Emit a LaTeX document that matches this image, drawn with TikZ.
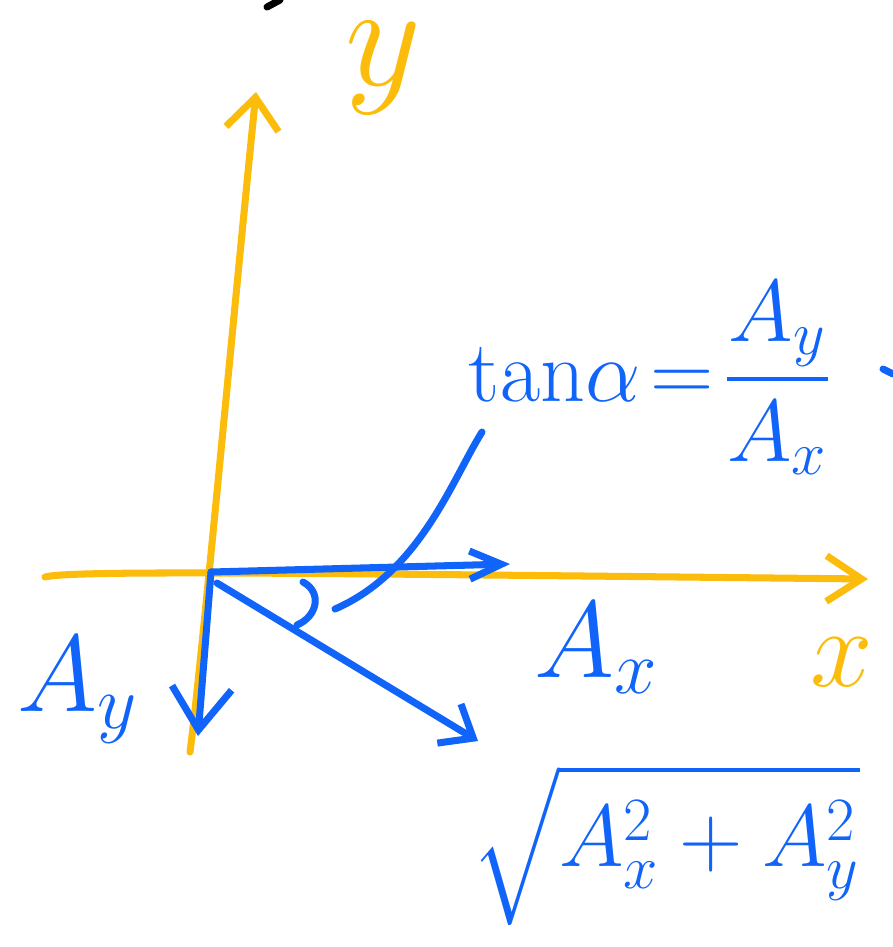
\RequirePackage{fix-cm}
\documentclass[tikz,border=0pt]{standalone}
\usepackage{amsmath}
\usetikzlibrary{arrows.meta}
\definecolor{inkblue}{RGB}{16,100,250}
\definecolor{axisgold}{RGB}{251,188,12}

\begin{document}
\begin{tikzpicture}[x=0.01cm, y=-0.01cm, line cap=round, line join=round,
    axis/.style={axisgold, line width=2pt},
    vec/.style={inkblue, line width=2pt},
    lbl/.style={inkblue, inner sep=0pt}]
  \useasboundingbox (0,0) rectangle (893,947);
  % axes
  \coordinate (O) at (211,572);
  \coordinate (ybot) at (190,752);
  \coordinate (ytop) at (256,92);
  \coordinate (xleft) at (45,577);
  \coordinate (xright) at (868,579);
  \draw[axis, -{Straight Barb[length=9pt, width=15pt]}]
    (ybot) .. controls (202,660) and (232,330) .. (ytop);
  \draw[axis, -{Straight Barb[length=10pt, width=13pt]}]
    (xleft) .. controls (70,570) and (300,573) .. (xright);
  \node[axisgold, inner sep=0pt, font=\fontsize{42}{46}\selectfont] (ylab) at (383,68) {$y$};
  \node[axisgold, inner sep=0pt, font=\fontsize{32}{36}\selectfont] (xlab) at (842,662) {$x$};
  % components and resultant
  \coordinate (axtip) at (510,564);
  \coordinate (aytip) at (198,736);
  \coordinate (rstart) at (217,583);
  \coordinate (rtip) at (478,741);
  \draw[vec, -{Straight Barb[length=9pt, width=8pt]}] (O) -- (axtip);
  \draw[vec, -{Straight Barb[length=12pt, width=17pt]}] (O) -- (aytip);
  \draw[vec, -{Straight Barb[length=8pt, width=13pt]}] (rstart) -- (rtip);
  % angle mark and leader to the formula
  \draw[vec] (303,582) .. controls (322,592) and (318,616) .. (297,625);
  \coordinate (lead) at (482,432);
  \draw[vec] (335,609) .. controls (420,572) and (452,480) .. (lead);
  % labels
  \node[lbl, font=\fontsize{31}{36}\selectfont] (axlab) at (597,648) {$A_x$};
  \node[lbl, font=\fontsize{31}{36}\selectfont] (aylab) at (78,690) {$A_y$};
  \node[lbl, anchor=west, font=\fontsize{25}{30}\selectfont] (tanlab) at (468,378)
    {$\tan\!\alpha\!=\!\dfrac{A_y}{A_x}$};
  \node[lbl, font=\fontsize{25}{30}\selectfont] (maglab) at (666,845)
    {$\sqrt{A_x^2+A_y^2}$};
  % stray marks at the edges
  \draw[black, line width=2pt] (267,7) -- (280,0);
  \draw[vec] (883,369) -- (893,374);
\end{tikzpicture}
\end{document}
